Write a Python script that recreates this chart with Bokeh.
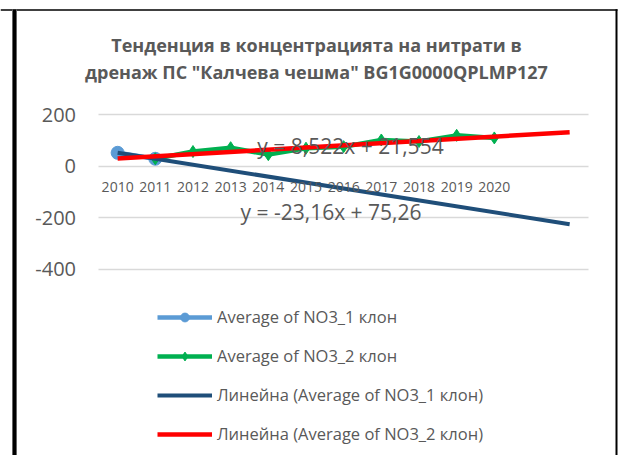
from bokeh.plotting import figure
from bokeh.models import Range1d, Label, Legend, LegendItem, BoxAnnotation, FixedTicker, Grid
from bokeh.core.properties import value
from bokeh.embed import file_html
from bokeh.resources import INLINE

# ---- data ----
years = ["2010", "2011", "2012", "2013", "2014", "2015", "2016", "2017", "2018", "2019", "2020"]
no3_1_years = ["2010", "2011"]
no3_1 = [52.1, 28.9]
no3_2_years = ["2011", "2012", "2013", "2014", "2015", "2016", "2017", "2018", "2019", "2020"]
no3_2 = [29, 57, 72, 45, 70, 76, 102, 96, 120, 110]
forecast_periods = 2
trend1 = (-23.16, 75.26)   # slope, intercept (x = 1 at 2010)
trend2 = (8.522, 21.554)
eq1_text = "y = -23,16x + 75,26"
eq2_text = "y = 8,522x + 21,554"
y_ticks = [-400, -200, 0, 200]
y_tick_labels = [str(t) for t in y_ticks]
title1 = "Тенденция в концентрацията на нитрати в"
title2 = "дренаж ПС \"Калчева чешма\" BG1G0000QPLMP127"
leg_labels = ["Average of NO3_1 клон", "Average of NO3_2 клон",
              "Линейна (Average of NO3_1 клон)", "Линейна (Average of NO3_2 клон)"]

FONT = "Open Sans"
GRAY = "#595959"

# ---- layout (canvas pixels) ----
W, H = 620, 455
PL, PR, PT, PB = 98.3, 588.0, 114.3, 268.5   # plot area edges
n_slots = len(years) + forecast_periods
XA, XB = 0.5, n_slots + 0.5
YA, YB = min(y_ticks), max(y_ticks)
kx = (PR - PL) / (XB - XA)
ky = (PB - PT) / (YB - YA)
X0 = XA - PL / kx
X1 = XB + (W - PR) / kx
Y1 = YB + PT / ky
Y0 = YA - (H - PB) / ky

def dx(px):
    return X0 + px / kx

def dy(py):
    return Y1 - py / ky

pos = {y: i + 1 for i, y in enumerate(years)}

p = figure(width=W, height=H, output_backend="svg", toolbar_location=None,
           x_range=Range1d(X0, X1), y_range=Range1d(Y0, Y1),
           x_axis_type=None, y_axis_type=None,
           min_border=0, min_border_left=0, min_border_right=0,
           min_border_top=0, min_border_bottom=0)
p.outline_line_color = None
p.background_fill_color = "white"
p.border_fill_color = "white"

# horizontal gridlines
grid = Grid(dimension=1, ticker=FixedTicker(ticks=y_ticks),
            grid_line_color="#D9D9D9", grid_line_width=1.5)
try:
    grid.cross_bounds = (XA, XB)
    p.add_layout(grid)
except AttributeError:
    p.segment(x0=[XA] * len(y_ticks), x1=[XB] * len(y_ticks), y0=y_ticks, y1=y_ticks,
              line_color="#D9D9D9", line_width=1.5)

# y tick labels
p.text(x=[dx(75.5)] * len(y_ticks), y=y_ticks, text=y_tick_labels,
       text_align="right", text_baseline="middle", text_font=value(FONT),
       text_font_size="20px", text_color=GRAY)

# series
x1 = [pos[y] for y in no3_1_years]
x2 = [pos[y] for y in no3_2_years]
l1 = p.line(x1, no3_1, line_color="#5B9BD5", line_width=4.5)
s1 = p.scatter(x1, no3_1, marker="circle", size=13, fill_color="#5B9BD5", line_color="#5B9BD5")
l2 = p.line(x2, no3_2, line_color="#00B050", line_width=4.5)
s2 = p.scatter(x2, no3_2, marker="diamond", size=12, fill_color="#00B050", line_color="#00B050")

xt = list(range(1, n_slots + 1))
t1 = p.line([xt[0], xt[-1]], [trend1[0] * xt[0] + trend1[1], trend1[0] * xt[-1] + trend1[1]],
            line_color="#1F4E79", line_width=4)
t2 = p.line([xt[0], xt[-1]], [trend2[0] * xt[0] + trend2[1], trend2[0] * xt[-1] + trend2[1]],
            line_color="#FF0000", line_width=4.5)

# category labels crossing at 0
p.text(x=[pos[y] for y in years], y=[0] * len(years), text=years, y_offset=21,
       text_align="center", text_baseline="middle", text_font=value(FONT),
       text_font_size="14px", text_color=GRAY)

# trend equations
p.add_layout(Label(x=dx(350), y=dy(145), text=eq2_text, text_align="center", text_baseline="middle",
                   text_font=FONT, text_font_size="21px", text_color=GRAY))
p.add_layout(Label(x=dx(330.5), y=dy(211.7), text=eq1_text, text_align="center", text_baseline="middle",
                   text_font=FONT, text_font_size="21px", text_color=GRAY))

# title
p.add_layout(Label(x=dx(316), y=dy(44), text=title1, text_align="center", text_baseline="middle",
                   text_font=FONT, text_font_size="18px", text_font_style="bold", text_color=GRAY))
p.add_layout(Label(x=dx(316), y=dy(71), text=title2, text_align="center", text_baseline="middle",
                   text_font=FONT, text_font_size="18px", text_font_style="bold", text_color=GRAY))

# chart border lines
p.add_layout(BoxAnnotation(left=dx(0), right=dx(617), top=dy(8.7), bottom=dy(10.2),
                           fill_color="black", fill_alpha=1, line_color=None, level="overlay"))
p.add_layout(BoxAnnotation(left=dx(11.5), right=dx(16.5), top=dy(9), bottom=dy(H),
                           fill_color="#808080", fill_alpha=1, line_color=None, level="overlay"))
p.add_layout(BoxAnnotation(left=dx(12.3), right=dx(15.7), top=dy(9), bottom=dy(H),
                           fill_color="black", fill_alpha=1, line_color=None, level="overlay"))
p.add_layout(BoxAnnotation(left=dx(615), right=dx(617), top=dy(8.7), bottom=dy(H),
                           fill_color="black", fill_alpha=1, line_color=None, level="overlay"))

legend = Legend(items=[
    LegendItem(label=leg_labels[0], renderers=[l1, s1]),
    LegendItem(label=leg_labels[1], renderers=[l2, s2]),
    LegendItem(label=leg_labels[2], renderers=[t1]),
    LegendItem(label=leg_labels[3], renderers=[t2]),
], location=(157, H - 445), orientation="vertical")
legend.padding = 0
legend.margin = 0
legend.spacing = 16
legend.glyph_height = 22
legend.label_height = 22
legend.glyph_width = 55
legend.label_standoff = 5
legend.border_line_color = None
legend.background_fill_alpha = 0
legend.label_text_font = FONT
legend.label_text_font_size = "16.5px"
legend.label_text_color = GRAY
p.add_layout(legend, "center")

open("out.html", "w").write(file_html(p, INLINE))
